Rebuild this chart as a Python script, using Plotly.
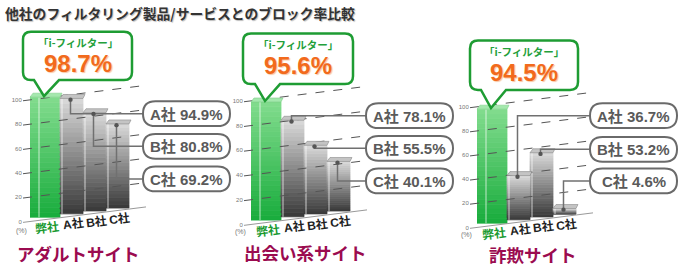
import plotly.graph_objects as go

# ---------------- data ----------------
TITLE = "他社のフィルタリング製品/サービスとのブロック率比較"
PANEL_TITLES = ["アダルトサイト", "出会い系サイト", "詐欺サイト"]
COMPANIES = ["弊社", "A社", "B社", "C社"]
PRODUCT = "「i-フィルター」"
ADULT = [98.7, 94.9, 80.8, 69.2]
DATING = [95.6, 78.1, 55.5, 40.1]
FRAUD = [94.5, 36.7, 53.2, 4.6]
Y_TICKS = [0, 20, 40, 60, 80, 100]
Y_UNIT = "(%)"
SERIES = [ADULT, DATING, FRAUD]

# ---------------- layout / style ----------------
W, H = 678, 269
BAR_W = [30, 23, 23, 23]          # px
SLOPE = 0.127                      # perspective slant (px per px)
XW = 120                           # x-axis width in px units
YH = 120                           # y-axis height in value units
N_SEG = 24
LIFT = 2.0                         # bars sit slightly above floor (value units)

PANELS = [
    dict(x0=30, y0=224, sy=1.23, box=(23, 32, 132, 81), pill_x=143,
         pill_cy=[115, 148, 181], title=(78, 256), pct=(21, 234)),
    dict(x0=251, y0=227, sy=1.25, box=(243, 34, 353, 85), pill_x=366,
         pill_cy=[117, 150, 183], title=(305, 255), pct=(240, 235)),
    dict(x0=477, y0=230, sy=1.22, box=(470, 41, 578, 91), pill_x=590,
         pill_cy=[117, 151, 183], title=(533, 257), pct=(466, 238)),
]
PILL_W, PILL_H = 87, 25

GREEN_TOP, GREEN_BOT = (130, 220, 142), (24, 172, 60)
GRAY_TOP, GRAY_BOT = (218, 218, 218), (56, 56, 56)
JP = "Noto Sans CJK JP"
LAT = "Liberation Sans, Noto Sans CJK JP"


def px2x(px):
    return px / W


def py2y(py):
    return 1 - py / H


def mix(c1, c2, t):
    return "rgb(%d,%d,%d)" % tuple(round(a + (b - a) * t) for a, b in zip(c1, c2))


def rrect_path(l, t, r, b, rad, tail=None):
    P = lambda x, y: "%.5f,%.5f" % (px2x(x), py2y(y))
    s = "M" + P(l + rad, t)
    s += " L" + P(r - rad, t) + " Q" + P(r, t) + " " + P(r, t + rad)
    s += " L" + P(r, b - rad) + " Q" + P(r, b) + " " + P(r - rad, b)
    if tail:
        tl, tr, tx, ty = tail
        s += " L" + P(tr, b) + " L" + P(tx, ty) + " L" + P(tl, b)
    s += " L" + P(l + rad, b) + " Q" + P(l, b) + " " + P(l, b - rad)
    s += " L" + P(l, t + rad) + " Q" + P(l, t) + " " + P(l + rad, t) + " Z"
    return s


fig = go.Figure()
shapes, annos = [], []
layout_axes = {}

for k, (vals, P) in enumerate(zip(SERIES, PANELS)):
    n = k + 1
    xa = "x" if n == 1 else "x%d" % n
    ya = "y" if n == 1 else "y%d" % n
    x0, y0, sy = P["x0"], P["y0"], P["sy"]
    skew = SLOPE / sy  # value units per px

    lefts, acc = [], 0
    for w in BAR_W:
        lefts.append(acc)
        acc += w
    centers = [l + w / 2 for l, w in zip(lefts, BAR_W)]
    bases = [skew * c + LIFT for c in centers]

    # gradient bars made of stacked segments (bottom dark -> top light)
    for i in range(N_SEG):
        t = (i + 0.5) / N_SEG
        cols = [mix(GREEN_BOT, GREEN_TOP, t) if j == 0 else mix(GRAY_BOT, GRAY_TOP, t)
                for j in range(len(vals))]
        fig.add_trace(go.Bar(
            x=centers, y=[v / N_SEG for v in vals],
            base=[b + v * i / N_SEG for b, v in zip(bases, vals)],
            width=BAR_W, marker=dict(color=cols, line=dict(width=0.8, color=cols)),
            xaxis=xa, yaxis=ya, showlegend=False, hoverinfo="skip"))

    tops = [b + v for b, v in zip(bases, vals)]

    def to_px(xd, yd):
        return x0 + xd, y0 - yd * sy

    # light edge stripes on the bars
    for j in range(len(vals)):
        xl, yt = to_px(lefts[j], tops[j])
        _, yb = to_px(lefts[j], bases[j])
        sx = xl + (9 if j == 0 else 2)
        shapes.append(dict(type="line", xref="paper", yref="paper",
                           x0=px2x(sx), x1=px2x(sx), y0=py2y(yt), y1=py2y(yb),
                           line=dict(color="rgba(255,255,255,0.35)", width=2), layer="above"))

    # gridlines (slanted, dashed)
    for tv in Y_TICKS:
        xs, xe = x0 - 7, x0 + 116
        ys = y0 - tv * sy + 7 * SLOPE
        ye = y0 - tv * sy - 116 * SLOPE
        shapes.append(dict(type="line", xref="paper", yref="paper",
                           x0=px2x(xs), y0=py2y(ys), x1=px2x(xe), y1=py2y(ye),
                           line=dict(color="#999" if tv == 0 else "#555", width=1,
                                     dash="solid" if tv == 0 else "dash"),
                           layer="above"))

    # top faces
    for j in range(len(vals)):
        xl, yt = to_px(lefts[j], tops[j])
        xr = xl + BAR_W[j]
        pth = "M%.5f,%.5f L%.5f,%.5f L%.5f,%.5f L%.5f,%.5f Z" % (
            px2x(xl), py2y(yt), px2x(xr), py2y(yt),
            px2x(xr + 2), py2y(yt - 4), px2x(xl + 3), py2y(yt - 4))
        shapes.append(dict(type="path", xref="paper", yref="paper", path=pth,
                           fillcolor="#a4e8ad" if j == 0 else "#c4c4c4",
                           line=dict(color="#7fcf8a" if j == 0 else "#8a8a8a", width=0.6),
                           layer="above"))

    # connectors + pills for competitors
    for j in range(1, len(vals)):
        dx, dy = to_px(centers[j] - 1, tops[j] - 1)
        cy = P["pill_cy"][j - 1]
        shapes.append(dict(type="path", xref="paper", yref="paper",
                           path="M%.5f,%.5f L%.5f,%.5f L%.5f,%.5f" % (
                               px2x(dx), py2y(dy), px2x(dx), py2y(cy),
                               px2x(P["pill_x"]), py2y(cy)),
                           line=dict(color="#707070", width=1.5), layer="above"))
        shapes.append(dict(type="circle", xref="paper", yref="paper",
                           x0=px2x(dx - 2.2), x1=px2x(dx + 2.2),
                           y0=py2y(dy - 2.2), y1=py2y(dy + 2.2),
                           fillcolor="#555", line=dict(width=0), layer="above"))
        l, r = P["pill_x"], P["pill_x"] + PILL_W
        tt, bb = cy - PILL_H / 2, cy + PILL_H / 2
        shapes.append(dict(type="path", xref="paper", yref="paper",
                           path=rrect_path(l, tt, r, bb, PILL_H / 2),
                           fillcolor="white", line=dict(color="#6a6a6a", width=2),
                           layer="above"))
        annos.append(dict(x=px2x((l + r) / 2), y=py2y(cy + 0.5), xref="paper", yref="paper",
                          text="<b>%s %.1f%%</b>" % (COMPANIES[j], vals[j]),
                          showarrow=False, xanchor="center", yanchor="middle",
                          font=dict(family=LAT, size=15, color="#5a5a5a")))

    # green callout for own product
    bl, bt, br, bb = P["box"]
    tipx, tipy = to_px(centers[0] - 1, tops[0])
    shapes.append(dict(type="path", xref="paper", yref="paper",
                       path=rrect_path(bl, bt, br, bb, 8, tail=(tipx - 10, tipx + 15, tipx, tipy - 1)),
                       fillcolor="white", line=dict(color="#1e9c33", width=2.5),
                       layer="above"))
    cx = (bl + br) / 2
    annos.append(dict(x=px2x(cx), y=py2y(bt + 11), xref="paper", yref="paper",
                      text="<b>%s</b>" % PRODUCT, showarrow=False,
                      xanchor="center", yanchor="middle",
                      font=dict(family=JP, size=10.5, color="#23a03a")))
    annos.append(dict(x=px2x(cx), y=py2y(bt + 32), xref="paper", yref="paper",
                      text="<b>%.1f%%</b>" % vals[0], showarrow=False,
                      xanchor="center", yanchor="middle",
                      font=dict(family=LAT, size=24, color="#f26a1c",
                                shadow="1px 1px 1px #f7c8a5")))

    # company labels on the slanted floor
    for j, c in enumerate(COMPANIES):
        lx = x0 + centers[j] + 2
        ly = y0 - SLOPE * (lx - x0) + 8
        annos.append(dict(x=px2x(lx), y=py2y(ly), xref="paper", yref="paper",
                          text="<b>%s</b>" % c, showarrow=False, textangle=-7,
                          xanchor="center", yanchor="middle",
                          font=dict(family=LAT, size=12,
                                    color="#1a9a30" if j == 0 else "#222")))

    annos.append(dict(x=px2x(P["pct"][0]), y=py2y(P["pct"][1]), xref="paper", yref="paper",
                      text=Y_UNIT, showarrow=False, xanchor="center", yanchor="middle",
                      font=dict(family=LAT, size=7, color="#777")))
    annos.append(dict(x=px2x(P["title"][0]), y=py2y(P["title"][1]), xref="paper", yref="paper",
                      text="<b>%s</b>" % PANEL_TITLES[k], showarrow=False,
                      xanchor="center", yanchor="middle",
                      font=dict(family=JP, size=17.5, color="#9b0b50")))

    layout_axes["xaxis" if n == 1 else "xaxis%d" % n] = dict(
        domain=[px2x(x0), px2x(x0 + XW)], range=[0, XW], visible=False,
        anchor=ya, fixedrange=True)
    layout_axes["yaxis" if n == 1 else "yaxis%d" % n] = dict(
        domain=[py2y(y0), py2y(y0 - YH * sy)], range=[0, YH], anchor=xa,
        tickvals=Y_TICKS, ticktext=[str(t) for t in Y_TICKS],
        tickfont=dict(family=LAT, size=6, color="#777"),
        ticks="outside", ticklen=6, tickcolor="rgba(0,0,0,0)",
        showgrid=False, zeroline=False, showline=False, fixedrange=True)

annos.append(dict(x=px2x(3), y=py2y(13), xref="paper", yref="paper",
                  text="<b>%s</b>" % TITLE, showarrow=False,
                  xanchor="left", yanchor="middle",
                  font=dict(family=JP, size=13.8, color="#333",
                            shadow="1px 1px 1px #bbb")))

fig.update_layout(
    width=W, height=H, margin=dict(l=0, r=0, t=0, b=0),
    paper_bgcolor="white", plot_bgcolor="rgba(0,0,0,0)",
    barmode="overlay", showlegend=False,
    shapes=shapes, annotations=annos, **layout_axes)

fig.write_html("out.html", config={"displayModeBar": False})
